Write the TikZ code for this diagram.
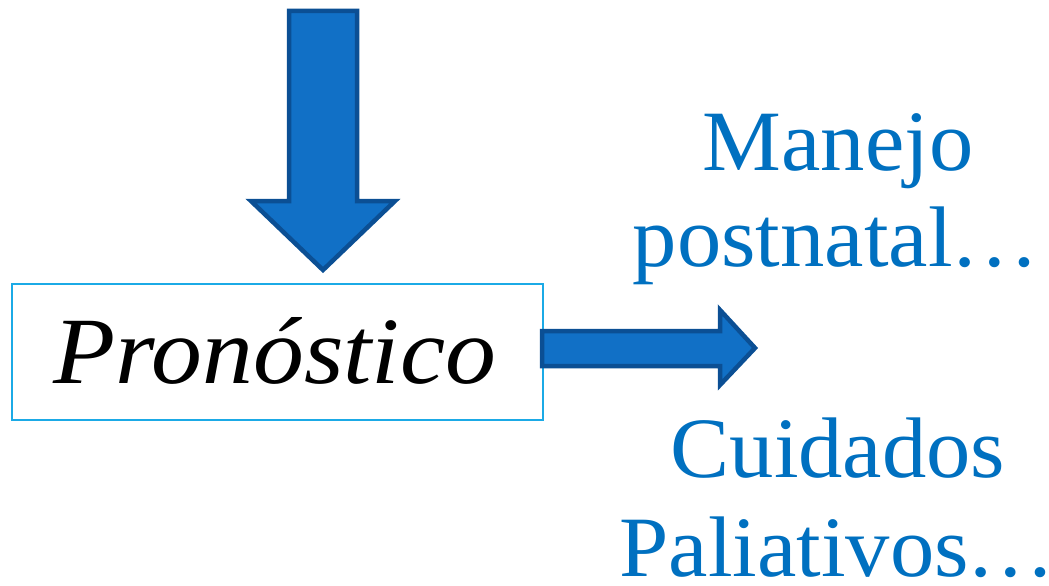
\documentclass[tikz,border=0pt]{standalone}
\usepackage{fontspec}
\setmainfont{Liberation Serif}
\newfontfamily\camfont[FakeStretch=1.03]{Liberation Serif}
\newfontfamily\camitfont[FakeStretch=1.07]{Liberation Serif Italic}
\definecolor{arrowfill}{HTML}{1170C6}
\definecolor{arrowedge}{HTML}{0B4F94}
\definecolor{boxedge}{HTML}{1BAAE6}
\definecolor{textblue}{HTML}{0070C0}
\tikzset{
  bigarrow/.style={fill=arrowfill, draw=arrowedge, line width=4.5pt, line join=miter},
  mainbox/.style={draw=boxedge, line width=1.8pt, minimum width=531pt, minimum height=136pt, inner sep=0pt},
  bluetext/.style={text=textblue, font=\camfont\fontsize{86}{90}\selectfont, anchor=base, inner sep=0pt},
}
\begin{document}
\begin{tikzpicture}[x=1pt,y=-1pt]
\useasboundingbox (0,0) rectangle (1049,586);
\node[mainbox] (box) at (277.5,352) {};
\node[anchor=base, inner sep=0pt, font=\camitfont\fontsize{95}{100}\selectfont] (prono) at (275,383) {Pronóstico};
% down arrow
\draw[bigarrow] (289,11) -- (357,11) -- (357,201) -- (395,201) -- (323,270) -- (251,201) -- (289,201) -- cycle;
\coordinate (dtip) at (323,270);
% right arrow
\draw[bigarrow] (542,331) -- (720,331) -- (720,310) -- (755,348) -- (720,385) -- (720,366) -- (542,366) -- cycle;
\coordinate (rtip) at (755,348);
\node[bluetext] (t1) at (838,170) {Manejo};
\node[bluetext] (t2) at (836,266) {postnatal\kern-2pt…};
\node[bluetext] (t3) at (838,477) {Cuidados};
\node[bluetext] (t4) at (837,576) {Paliativos\kern-3pt…};
\end{tikzpicture}
\end{document}
